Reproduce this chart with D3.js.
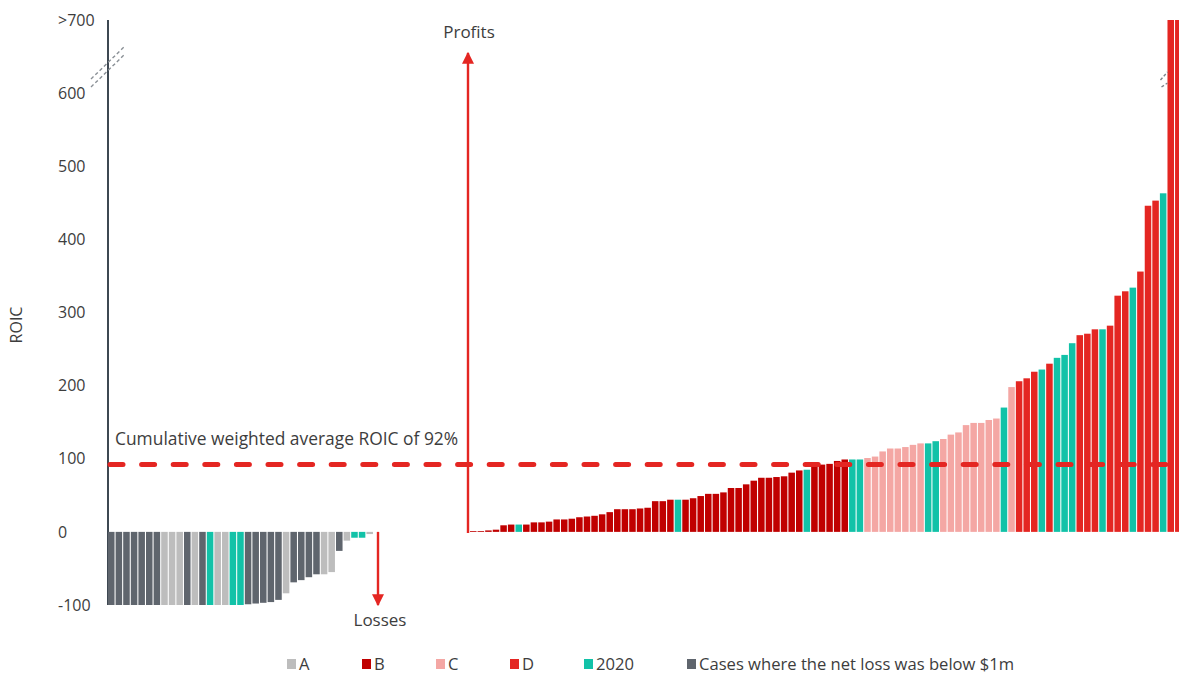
<!DOCTYPE html>
<html>
<head>
<meta charset="utf-8">
<script src="https://cdn.jsdelivr.net/npm/d3@7"></script>
<style>
  html, body { margin: 0; padding: 0; background: #ffffff; }
  svg { display: block; font-family: "Open Sans", "Noto Sans", sans-serif; }
</style>
</head>
<body>
<svg id="chart" width="1179" height="675"></svg>
<script>
// Loss-making cases (ROIC below zero), sorted
const lossValues = [-100, -100, -100, -100, -100, -100, -100, -100, -100, -100,
  -100, -100, -100, -100, -100, -100, -100, -100, -99, -98,
  -97, -96, -93, -84, -69, -66, -62, -58, -58, -55,
  -26, -12, -8, -8, -3];
const lossGroups = ["G", "G", "G", "G", "G", "G", "G", "A", "A", "A",
  "G", "A", "G", "T", "A", "A", "T", "T", "G", "G",
  "G", "G", "G", "A", "G", "G", "G", "G", "A", "A",
  "G", "A", "T", "T", "A"];

// Profitable cases (ROIC above zero), sorted; values above the axis break are capped at 700
const profitValues = [1, 1, 2, 3, 9, 10, 10, 10, 13, 13,
  14, 17, 17, 18, 20, 21, 22, 24, 27, 31,
  31, 31, 32, 33, 42, 42, 44, 44, 44, 46,
  49, 52, 52, 54, 60, 60, 65, 70, 74, 74,
  75, 76, 81, 84, 85, 91, 92, 93, 97, 99,
  99, 99, 101, 103, 110, 114, 114, 116, 119, 121,
  121, 124, 127, 133, 136, 146, 149, 149, 153, 155,
  170, 198, 206, 210, 219, 222, 230, 238, 242, 258,
  269, 271, 277, 277, 282, 323, 329, 334, 356, 446,
  453, 463, 700, 700];
const profitGroups = ["B", "B", "B", "B", "B", "B", "T", "B", "B", "B",
  "B", "B", "B", "B", "B", "B", "B", "B", "B", "B",
  "B", "B", "B", "B", "B", "B", "B", "T", "B", "B",
  "B", "B", "B", "B", "B", "B", "B", "B", "B", "B",
  "B", "B", "B", "B", "T", "B", "B", "B", "B", "B",
  "T", "T", "C", "C", "C", "C", "C", "C", "C", "C",
  "T", "T", "C", "C", "C", "C", "C", "C", "C", "C",
  "T", "C", "D", "D", "D", "T", "D", "T", "T", "T",
  "D", "D", "D", "T", "D", "D", "D", "T", "D", "D",
  "D", "T", "D", "D"];

const yTicks = [-100, 0, 100, 200, 300, 400, 500, 600, 700];
const averageRoic = 92;

const legendKeys = ["A", "B", "C", "D", "T", "G"];
const legendLabels = ["A", "B", "C", "D", "2020", "Cases where the net loss was below $1m"];

const groupColor = {
  A: "#bdbdbd",
  B: "#c00000",
  C: "#f4a7a4",
  D: "#e42622",
  T: "#12c2a8",
  G: "#5f656d"
};

const svg = d3.select("#chart");
const textColor = "#3d3d3d";
const accent = "#e42622";

const y = d3.scaleLinear().domain([-100, 700]).range([605, 20]).clamp(true);

const pitch = 7.57;
const xLoss = d3.scaleBand().domain(d3.range(lossValues.length))
  .range([108, 108 + lossValues.length * pitch]).paddingInner(0.14).paddingOuter(0);
const xProfit = d3.scaleBand().domain(d3.range(profitValues.length))
  .range([470, 470 + profitValues.length * pitch]).paddingInner(0.14).paddingOuter(0);

// y axis labels
const axis = d3.axisLeft(y).tickValues(yTicks).tickSize(0)
  .tickFormat(d => d === 700 ? ">700" : String(d));
const gAxis = svg.append("g").attr("transform", "translate(58,0)").call(axis);
gAxis.select(".domain").remove();
gAxis.selectAll("text")
  .attr("x", 0).attr("text-anchor", "start")
  .attr("fill", textColor).style("font-size", "16px")
  .style("font-family", "'Open Sans', sans-serif");

// axis line
svg.append("line")
  .attr("x1", 108).attr("x2", 108)
  .attr("y1", y(700)).attr("y2", y(-100))
  .attr("stroke", "#3e4852").attr("stroke-width", 2);

// axis break marks
const breakY = y(633);
[-4, 4].forEach(off => {
  svg.append("line")
    .attr("x1", 91).attr("y1", breakY + off + 14)
    .attr("x2", 124).attr("y2", breakY + off - 18)
    .attr("stroke", "#8a9096").attr("stroke-width", 1.4)
    .attr("stroke-dasharray", "3.5,2.5");
});

// axis label
svg.append("text")
  .attr("transform", "translate(22,325) rotate(-90)")
  .attr("text-anchor", "middle")
  .attr("fill", textColor).style("font-size", "16px")
  .text("ROIC");

// loss bars
svg.append("g").selectAll("rect")
  .data(lossValues)
  .join("rect")
  .attr("x", (d, i) => xLoss(i))
  .attr("width", xLoss.bandwidth())
  .attr("y", d => Math.min(y(d), y(0)))
  .attr("height", d => Math.abs(y(d) - y(0)))
  .attr("fill", (d, i) => groupColor[lossGroups[i]]);

// profit bars
svg.append("g").selectAll("rect")
  .data(profitValues)
  .join("rect")
  .attr("x", (d, i) => xProfit(i))
  .attr("width", xProfit.bandwidth())
  .attr("y", d => Math.min(y(d), y(0)))
  .attr("height", d => Math.max(Math.abs(y(d) - y(0)), 0.8))
  .attr("fill", (d, i) => groupColor[profitGroups[i]]);

// break marks on the capped bars
const capX = xProfit(profitValues.length - 2);
[[-7, 80, 0, 72], [-6, 87, 0, 83]].forEach(s => {
  svg.append("line")
    .attr("x1", capX + s[0]).attr("y1", s[1])
    .attr("x2", capX + s[2]).attr("y2", s[3])
    .attr("stroke", "#7d838a").attr("stroke-width", 1.4)
    .attr("stroke-dasharray", "3,2");
});

// arrow heads
const defs = svg.append("defs");
defs.append("marker")
  .attr("id", "arrowhead")
  .attr("viewBox", "0 0 10 10")
  .attr("refX", 9).attr("refY", 5)
  .attr("markerWidth", 5).attr("markerHeight", 5)
  .attr("markerUnits", "strokeWidth")
  .attr("orient", "auto")
  .append("path").attr("d", "M0,0 L10,5 L0,10 Z").attr("fill", accent);

// profits arrow
svg.append("line")
  .attr("x1", 468).attr("x2", 468)
  .attr("y1", y(0) + 1).attr("y2", 53)
  .attr("stroke", accent).attr("stroke-width", 2.4)
  .attr("marker-end", "url(#arrowhead)");
svg.append("text")
  .attr("x", 469).attr("y", 38)
  .attr("text-anchor", "middle")
  .attr("fill", textColor).style("font-size", "17px")
  .text("Profits");

// losses arrow
svg.append("line")
  .attr("x1", 378).attr("x2", 378)
  .attr("y1", y(0)).attr("y2", 605)
  .attr("stroke", accent).attr("stroke-width", 2.4)
  .attr("marker-end", "url(#arrowhead)");
svg.append("text")
  .attr("x", 380).attr("y", 626)
  .attr("text-anchor", "middle")
  .attr("fill", textColor).style("font-size", "17px")
  .text("Losses");

// cumulative weighted average line
const avgY = y(averageRoic);
svg.append("line")
  .attr("x1", 110).attr("x2", 1172)
  .attr("y1", avgY).attr("y2", avgY)
  .attr("stroke", accent).attr("stroke-width", 5)
  .attr("stroke-linecap", "round")
  .attr("stroke-dasharray", "13,18.6");
svg.append("text")
  .attr("x", 115).attr("y", avgY - 20)
  .attr("fill", textColor).style("font-size", "17.4px")
  .text("Cumulative weighted average ROIC of " + averageRoic + "%");

// legend
const legendX = [287, 362, 436, 510, 584, 687];
const legend = svg.append("g");
legendKeys.forEach((k, i) => {
  legend.append("rect")
    .attr("x", legendX[i]).attr("y", 659)
    .attr("width", 9).attr("height", 10)
    .attr("fill", groupColor[k]);
  legend.append("text")
    .attr("x", legendX[i] + 12).attr("y", 670)
    .attr("fill", textColor).style("font-size", "16.6px")
    .text(legendLabels[i]);
});
</script>
</body>
</html>
